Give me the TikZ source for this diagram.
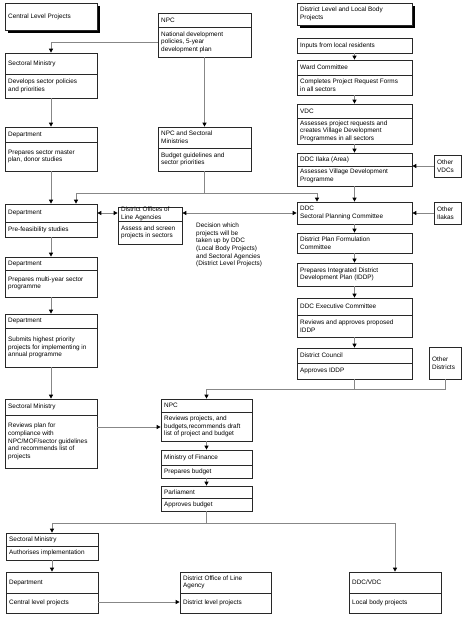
\documentclass[tikz,border=0pt]{standalone}
\usepackage{fontspec}
\setmainfont{Liberation Sans}
\usetikzlibrary{arrows.meta}
\definecolor{lineg}{RGB}{135,135,135}
\definecolor{boxc}{RGB}{40,40,40}
\tikzset{
  boxn/.style={draw=boxc, line width=0.7pt, fill=white, inner sep=0pt, rectangle},
  boxline/.style={draw=boxc, line width=0.7pt},
  txt/.style={anchor=west, align=left, inner xsep=3pt, inner ysep=0pt, font=\fontsize{6.4}{7.6}\selectfont},
  conn/.style={draw=lineg, line width=0.8pt},
  arr/.style={conn, -{Triangle[width=4pt,length=4pt,color=black]}},
  darr/.style={conn, {Triangle[width=4pt,length=4pt,color=black]}-{Triangle[width=4pt,length=4pt,color=black]}},
}
% two-part box: name, x1, y1, x2, y2, ydiv, head, body
\newcommand\tbox[8]{%
  \node[boxn, minimum width={(#4)-(#2)}, minimum height={(#5)-(#3)}] (#1) at ({((#2)+(#4))/2},{-((#3)+(#5))/2}) {};
  \draw[boxline] (#2,-#6) -- (#4,-#6);
  \node[txt] (#1h) at (#2,{-((#3)+(#6))/2}) {#7};
  \node[txt] (#1b) at (#2,{-((#6)+(#5))/2}) {#8};
}
% single box: name, x1, y1, x2, y2, text
\newcommand\onebox[6]{%
  \node[boxn, minimum width={(#4)-(#2)}, minimum height={(#5)-(#3)}] (#1) at ({((#2)+(#4))/2},{-((#3)+(#5))/2}) {};
  \node[txt] (#1t) at (#2,{-((#3)+(#5))/2}) {#6};
}
\begin{document}
\begin{tikzpicture}[x=1pt,y=1pt]
\useasboundingbox[fill=white] (0,0) rectangle (474,-626);

% shadowed title boxes
\fill[black] (8,-6) rectangle (100,-33);
\onebox{cl}{5}{3}{97}{30}{Central Level Projects}
\fill[black] (300,-6) rectangle (415,-28);
\onebox{dl}{297}{3}{412}{25}{District Level and Local Body\\Projects}

% central column
\tbox{npcA}{158}{13}{251}{57}{27}{NPC}{National development\\policies, 5-year\\development plan}
\tbox{smA}{5}{53}{97}{98}{74}{Sectoral Ministry}{Develops sector policies\\and priorities}
\tbox{depA}{5}{127}{97}{171}{142}{Department}{Prepares sector master\\plan, donor studies}
\tbox{npcB}{158}{127}{251}{171}{148}{NPC and Sectoral\\Ministries}{Budget guidelines and\\sector priorities}
\tbox{depB}{5}{204}{97}{237}{222}{Department}{Pre-feasibility studies}
\tbox{dof}{118}{207}{182}{244}{221}{District Offices of\\Line Agencies}{Assess and screen\\projects in sectors}
\node[txt] (dec) at (193,-245) {Decision which\\projects will be\\taken up by DDC\\(Local Body Projects)\\and Sectoral Agencies\\(District Level Projects)};
\tbox{depC}{5}{257}{97}{297}{270}{Department}{Prepares multi-year sector\\programme}
\tbox{depD}{5}{314}{97}{367}{328}{Department}{Submits highest priority\\projects for implementing in\\annual programme}
\tbox{smB}{5}{399}{97}{468}{415}{Sectoral Ministry}{Reviews plan for\\compliance with\\NPC/MOF/sector guidelines\\and recommends list of\\projects}
\tbox{npcC}{161}{399}{252}{441}{412}{NPC}{Reviews projects, and\\budgets,recommends draft\\list of project and budget}
\tbox{mof}{161}{450}{252}{478}{465}{Ministry of Finance}{Prepares budget}
\tbox{parl}{161}{486}{252}{511}{498}{Parliament}{Approves budget}
\tbox{smC}{6}{533}{98}{560}{546}{Sectoral Ministry}{Authorises implementation}
\tbox{depE}{6}{572}{98}{613}{593}{Department}{Central level projects}
\tbox{dol}{180}{572}{271}{613}{593}{District Office of Line\\Agency}{District level projects}
\tbox{ddcvdc}{349}{572}{441}{613}{593}{DDC/VDC}{Local body projects}

% district column
\onebox{inp}{297}{38}{412}{53}{Inputs from local residents}
\tbox{ward}{297}{60}{412}{95}{75}{Ward Committee}{Completes Project Request Forms\\in all sectors}
\tbox{vdc}{297}{104}{412}{144}{118}{VDC}{Assesses project requests and\\creates Village Development\\Programmes in all sectors}
\tbox{ilaka}{297}{153}{412}{186}{166}{DDC Ilaka (Area)}{Assesses Village Development\\Programme}
\onebox{ovdc}{434}{155}{461}{177}{Other\\VDCs}
\onebox{ddcs}{297}{202}{412}{224}{DDC\\Sectoral Planning Committee}
\onebox{oila}{434}{202}{461}{224}{Other\\Ilakas}
\onebox{dpf}{297}{233}{412}{253}{District Plan Formulation\\Committee}
\onebox{iddp}{297}{263}{412}{286}{Prepares Integrated District\\Development Plan (IDDP)}
\tbox{exec}{297}{298}{412}{337}{315}{DDC Executive Committee}{Reviews and approves proposed\\IDDP}
\tbox{dc}{297}{348}{412}{379}{363}{District Council}{Approves IDDP}
\onebox{odis}{429}{347}{461}{379}{Other\\Districts}

% connectors: central column
\draw[arr] (npcA.west |- 0,-42) -| (smA.north);
\draw[arr] (smA.south) -- (depA.north);
\draw[arr] (depA.south) -- (depB.north);
\draw[arr] (npcA.south) -- (npcB.north);
\coordinate (jA) at (npcB.south |- 0,-193);
\coordinate (jL) at (76,-193);
\coordinate (jR) at (317,-193);
\draw[conn] (npcB.south) -- (jA);
\draw[conn] (jL) -- (jR);
\draw[arr] (jL) -- (depB.north -| jL);
\draw[arr] (jR) -- (ddcs.north -| jR);
\draw[darr] (depB.east |- 0,-213) -- (dof.west |- 0,-213);
\draw[darr] (dof.east |- 0,-213) -- (ddcs.west |- 0,-213);
\draw[arr] (depB.south) -- (depC.north);
\draw[arr] (depC.south) -- (depD.north);
\draw[arr] (depD.south) -- (smB.north);
\draw[arr] (smB.east |- 0,-427) -- (npcC.west |- 0,-427);
\draw[arr] (npcC.south) -- (mof.north);
\draw[arr] (mof.south) -- (parl.north);
\coordinate (jB) at (parl.south |- 0,-523);
\draw[conn] (parl.south) -- (jB);
\draw[conn] (smC.north |- jB) -- (ddcvdc.north |- jB);
\draw[arr] (smC.north |- jB) -- (smC.north);
\draw[arr] (ddcvdc.north |- jB) -- (ddcvdc.north);
\draw[arr] (smC.south) -- (depE.north);
\draw[arr] (depE.east |- 0,-602) -- (dol.west |- 0,-602);

% connectors: district column
\draw[arr] (inp.south) -- (ward.north);
\draw[arr] (ward.south) -- (vdc.north);
\draw[arr] (vdc.south) -- (ilaka.north);
\draw[arr] (ilaka.south) -- (ddcs.north);
\draw[arr] (ovdc.west) -- (ovdc.west -| ilaka.east);
\draw[arr] (oila.west) -- (oila.west -| ddcs.east);
\draw[arr] (ddcs.south) -- (dpf.north);
\draw[arr] (dpf.south) -- (iddp.north);
\draw[arr] (iddp.south) -- (exec.north);
\draw[arr] (exec.south) -- (dc.north);
\coordinate (jC) at (dc.south |- 0,-389);
\coordinate (jD) at (odis.south |- 0,-389);
\draw[conn] (dc.south) -- (jC);
\draw[conn] (odis.south) -- (jD) -- (npcC.north |- jD);
\draw[arr] (npcC.north |- jD) -- (npcC.north);
\end{tikzpicture}
\end{document}
